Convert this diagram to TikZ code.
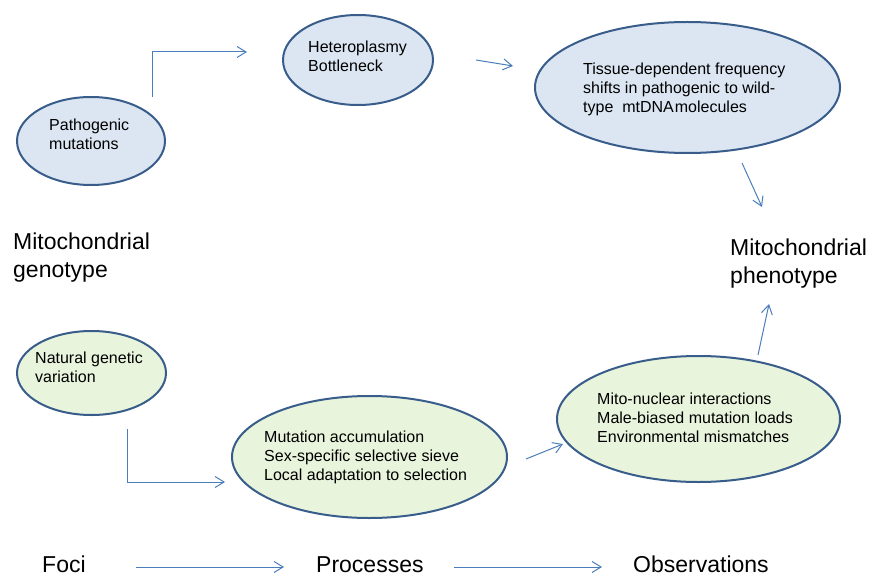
\documentclass[tikz,border=0pt]{standalone}
\usepackage{fontspec}
\setmainfont{Liberation Sans}
\usetikzlibrary{shapes.geometric,arrows.meta}
\definecolor{arr}{RGB}{74,126,187}
\definecolor{edgec}{RGB}{56,93,138}
\definecolor{fillb}{RGB}{220,230,242}
\definecolor{fillg}{RGB}{233,244,220}
\begin{document}
\begin{tikzpicture}[x=1pt,y=-1pt,
  bubble/.style={ellipse, draw=edgec, line width=2pt, inner sep=0pt},
  bluebub/.style={bubble, fill=fillb},
  greenbub/.style={bubble, fill=fillg},
  small/.style={font=\fontsize{16}{19}\selectfont, align=left, inner sep=0pt, anchor=north west},
  big/.style={font=\fontsize{23}{28}\selectfont, align=left, inner sep=0pt, anchor=north west},
  bigbase/.style={font=\fontsize{23}{28}\selectfont, inner sep=0pt, anchor=base west},
  conn/.style={draw=arr, line width=1pt, -{Straight Barb[length=9pt,width=11pt]}}]
\path[fill=white] (0,0) rectangle (874,577);
\useasboundingbox (0,0) rectangle (874,577);

% ellipses
\node[bluebub, minimum width=148pt, minimum height=88pt] (path) at (91,141) {};
\node[bluebub, minimum width=150pt, minimum height=90pt] (het) at (358,60) {};
\node[bluebub, minimum width=305pt, minimum height=131pt] (tis) at (687.5,87.5) {};
\node[greenbub, minimum width=149pt, minimum height=84pt] (nat) at (91.5,373) {};
\node[greenbub, minimum width=275pt, minimum height=122pt] (mut) at (369.5,457) {};
\node[greenbub, minimum width=283pt, minimum height=126pt] (mito) at (698.5,419) {};

% texts
\node[small] (tpath) at (49,118.3) {Pathogenic\\mutations};
\node[small] (thet) at (308,40.3) {Heteroplasmy\\Bottleneck};
\node[small] (ttis) at (583,62.3) {Tissue-dependent frequency\\shifts in pathogenic to wild-\\type~~mtDNA\kern1pt molecules};
\node[small] (tnat) at (35,351.3) {Natural genetic\\variation};
\node[small] (tmut) at (264,430.3) {Mutation accumulation\\Sex-specific selective sieve\\Local adaptation to selection};
\node[small] (tmito) at (597,392.3) {Mito-nuclear interactions\\Male-biased mutation loads\\Environmental mismatches};

\node[big] (geno) at (13,233) {Mitochondrial\\genotype};
\node[big] (pheno) at (730,239) {Mitochondrial\\phenotype};
\node[bigbase] (foci) at (42,572) {Foci};
\node[bigbase] (proc) at (316,572) {Processes};
\node[bigbase] (obs) at (633,572) {Observations};

% connectors
\coordinate (a1s) at (152,97);
\coordinate (a1e) at (247,52);
\draw[conn] (a1s) |- (a1e);
\coordinate (a2s) at (476,60);
\coordinate (a2e) at (513,66);
\draw[conn] (a2s) -- (a2e);
\coordinate (a3s) at (742,163);
\coordinate (a3e) at (762,207);
\draw[conn] (a3s) -- (a3e);
\coordinate (a4s) at (758,355);
\coordinate (a4e) at (769,304);
\draw[conn] (a4s) -- (a4e);
\coordinate (a5s) at (526,459);
\coordinate (a5e) at (563,444);
\draw[conn] (a5s) -- (a5e);
\coordinate (a6s) at (127.5,429);
\coordinate (a6e) at (225,482);
\draw[conn] (a6s) |- (a6e);
\coordinate (a7s) at (136,567);
\coordinate (a7e) at (284,567);
\draw[conn] (a7s) -- (a7e);
\coordinate (a8s) at (454,567);
\coordinate (a8e) at (602,567);
\draw[conn] (a8s) -- (a8e);
\end{tikzpicture}
\end{document}
